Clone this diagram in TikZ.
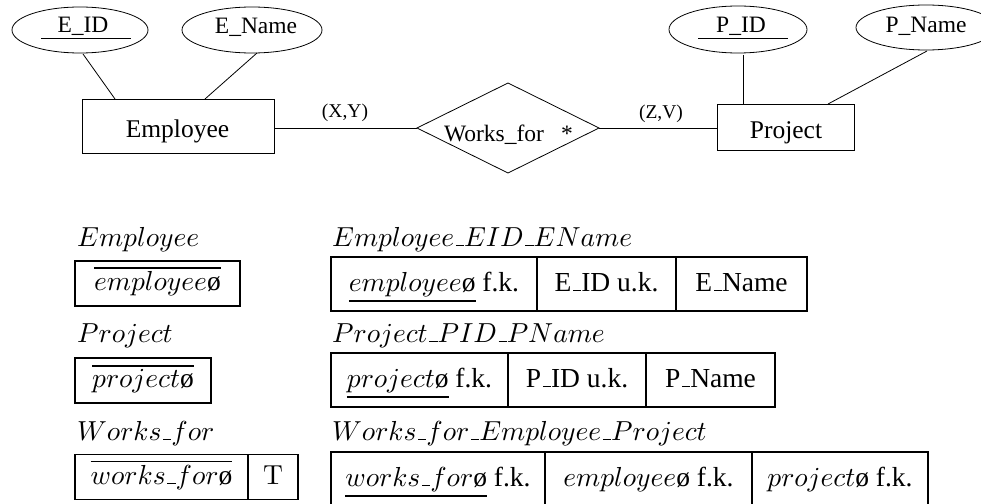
\documentclass[tikz,border=0pt]{standalone}
\usepackage[no-math]{fontspec}
\setmainfont{Liberation Serif}
\DeclareFontShape{OML}{cmm}{m}{it}{<->cmmi10}{}
\DeclareFontShape{OMX}{cmex}{m}{n}{<->cmex10}{}
\DeclareFontShape{OMS}{cmsy}{m}{n}{<->cmsy10}{}
\DeclareFontShape{OT1}{cmr}{m}{n}{<->cmr10}{}
\usetikzlibrary{shapes.geometric,calc}
\newcommand\us{\mbox{\kern.06em\vbox{\hrule width .3em height 1.1pt}}}
\newcommand\oo{\mbox{\o}}
\newcommand\bigf{\fontsize{27.5}{33}\selectfont}
\newcommand\ovl[1]{\vbox{\hrule height 1.8pt\kern 2.5pt\hbox{$#1$}}}
\newcommand\unl[1]{\vtop{\hbox{$#1$}\kern 3.5pt\hrule height 1.7pt}}
\begin{document}
\begin{tikzpicture}[x=1pt,y=-1pt,
  conn/.style={line width=0.8pt},
  attr/.style={ellipse, draw, line width=0.8pt, inner sep=0pt, outer sep=0pt},
  ent/.style={rectangle, draw, line width=0.8pt, inner sep=0pt, outer sep=0pt},
  toptxt/.style={font=\fontsize{23.5}{28}\selectfont, inner sep=0pt, anchor=base},
  enttxt/.style={font=\fontsize{25.5}{30}\selectfont, inner sep=0pt, anchor=base},
  lbl/.style={font=\fontsize{19.5}{23}\selectfont, inner sep=0pt, anchor=base},
  cell/.style={rectangle, draw, line width=1.4pt, inner sep=0pt, outer sep=0pt,
    text height=17pt, text depth=3pt, font=\bigf},
  rl/.style={anchor=base west, inner sep=0pt, font=\bigf}]
\useasboundingbox (0,0) rectangle (981,503);

% ---- ER diagram ----
\node[attr, minimum width=136pt, minimum height=46pt] (eid) at (80,30) {};
\node[toptxt] (eidt) at (83,33) {E\_ID};
\draw[conn] ($(eid.center)+(-39,8)$) -- ($(eid.center)+(51,8)$);
\node[attr, minimum width=140pt, minimum height=46pt] (ename) at (252,30) {};
\node[toptxt] (enamet) at (256,34) {E\_Name};
\node[ent, minimum width=192pt, minimum height=54pt] (emp) at (178,126) {};
\node[enttxt] (empt) at (177.5,137) {Employee};
\draw[conn] ($(eid.south)+(3,1)$) -- ($(emp.north west)+(33,0)$);
\draw[conn] ($(ename.south)+(5,0)$) -- ($(emp.north west)+(123,0)$);

\node[diamond, draw, line width=0.8pt, minimum width=182pt, minimum height=90pt,
  inner sep=0pt, outer sep=0pt] (wf) at (508,128) {};
\node[toptxt] (wft) at (494,141) {Works\_for};
\node[toptxt] (ast) at (567,141) {*};

\node[ent, minimum width=137pt, minimum height=46pt] (proj) at (785.5,127) {};
\node[enttxt] (projt) at (786,138) {Project};

\draw[conn] (emp.east |- wf.west) -- (wf.west);
\node[lbl] (xy) at (345,117) {(X,Y)};
\draw[conn] (wf.east) -- (wf.east -| proj.west);
\node[lbl] (zv) at (661,118) {(Z,V)};

\node[attr, minimum width=138pt, minimum height=47pt] (pid) at (738,29.5) {};
\node[toptxt] (pidt) at (741,33) {P\_ID};
\draw[conn] ($(pid.center)+(-40,9)$) -- ($(pid.center)+(50,9)$);
\node[attr, minimum width=140pt, minimum height=45pt] (pname) at (926,27.5) {};
\node[toptxt] (pnamet) at (926,33) {P\_Name};
\draw[conn] ($(pid.south)+(5,2)$) -- ($(proj.north west)+(26,0)$);
\draw[conn] ($(pname.south)+(1,1)$) -- ($(proj.north west)+(111,0)$);

% ---- relations ----
\node[rl] (lemp) at (77,246) {$Employee$};
\node[rl] (lproj) at (77,342) {$Project$};
\node[rl] (lwf) at (77,440) {$Works\us for$};
\node[rl] (remp) at (332,246) {$Employee\us EID\us EName$};
\node[rl] (rproj) at (332,342) {$Project\us PID\us PName$};
\node[rl] (rwf) at (332,440) {$Works\us for\us Employee\us Project$};

\node[cell, minimum width=165pt, minimum height=45pt] (ce) at (157.5,283.5) {\ovl{employee\oo}};
\node[cell, minimum width=136pt, minimum height=45pt] (cp) at (143,380.5) {\ovl{project\oo}};
\node[cell, minimum width=173pt, minimum height=45pt] (cw) at (161.5,477) {\ovl{works\us for\oo}};
\node[cell, anchor=west, minimum width=50pt, minimum height=45pt] (ct) at (cw.east) {$\mathrm{T}$};

\node[cell, minimum width=206pt, minimum height=54pt] (e1) at (434,284) {\unl{employee\oo} f.k.};
\node[cell, anchor=west, minimum width=139pt, minimum height=54pt] (e2) at (e1.east) {E\us ID u.k.};
\node[cell, anchor=west, minimum width=131pt, minimum height=54pt] (e3) at (e2.east) {E\us Name};

\node[cell, minimum width=177pt, minimum height=54pt] (p1) at (419.5,380) {\unl{project\oo} f.k.};
\node[cell, anchor=west, minimum width=138pt, minimum height=54pt] (p2) at (p1.east) {P\us ID u.k.};
\node[cell, anchor=west, minimum width=129pt, minimum height=54pt] (p3) at (p2.east) {P\us Name};

\node[cell, minimum width=214pt, minimum height=54pt] (w1) at (438,479) {\unl{works\us for\oo} f.k.};
\node[cell, anchor=west, minimum width=207pt, minimum height=54pt] (w2) at (w1.east) {$employee\oo$ f.k.};
\node[cell, anchor=west, minimum width=176pt, minimum height=54pt] (w3) at (w2.east) {$project\oo$ f.k.};
\end{tikzpicture}
\end{document}
